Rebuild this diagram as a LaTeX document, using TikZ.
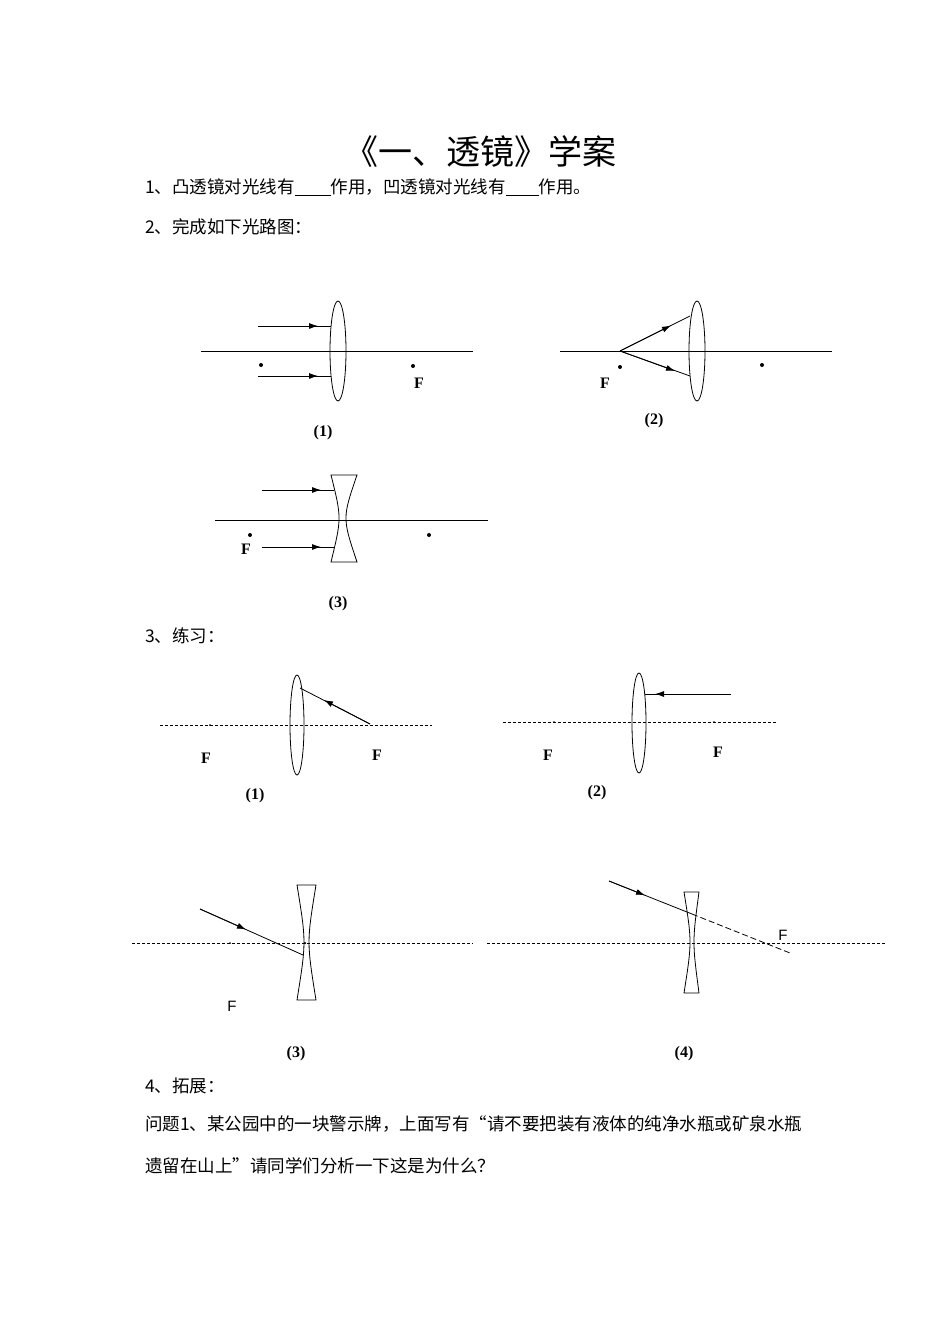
\documentclass[tikz,border=0pt]{standalone}
\usepackage{fontspec}
\setmainfont{Liberation Serif}
\newfontfamily\cjk{Noto Sans CJK SC}
\newfontfamily\lsans{Liberation Sans}
\usetikzlibrary{arrows.meta}
\begin{document}
\begin{tikzpicture}[x=1pt,y=-1pt,
 txt/.style={anchor=west,inner sep=0pt,font=\cjk\fontsize{17.5}{20}\selectfont},
 lab/.style={inner sep=0pt,font=\bfseries\fontsize{16}{18}\selectfont},
 fs/.style={inner sep=0pt,font=\lsans\fontsize{15}{17}\selectfont},
 ln/.style={line width=0.8pt},
 ar/.style={line width=0.8pt,-{Latex[length=9pt,width=6pt]}},
 dsh/.style={line width=0.8pt,dash pattern=on 3pt off 2pt},
 dot/.style={circle,fill,inner sep=0pt,minimum size=4pt}]
\useasboundingbox (0,0) rectangle (950,1344);
\node[inner sep=0pt,font=\cjk\fontsize{34}{38}\selectfont] (title) at (480,152) {《一、透镜》学案};
\node[txt] (l1) at (145,187) {1、凸透镜对光线有\underline{\hspace{36pt}}作用，凹透镜对光线有\underline{\hspace{33pt}}作用。};
\node[txt] (l2) at (145,227) {2、完成如下光路图：};
% Diagram 1
\draw[ln] (201,351) -- (473,351);
\draw[ln] (338,351) ellipse [x radius=8, y radius=50];
\coordinate (a1) at (258,326); \coordinate (a1e) at (331,326);
\draw[ln] (a1) -- (a1e); \draw[ar] (a1) -- (318,326);
\coordinate (a2) at (258,376); \coordinate (a2e) at (331,376);
\draw[ln] (a2) -- (a2e); \draw[ar] (a2) -- (318,376);
\node[dot] (d11) at (261,365) {}; \node[dot] (d12) at (413,366) {};
\node[lab] (f11) at (419,383) {F};
\node[lab] (c1) at (323,433) {(1)};
% Diagram 2
\draw[ln] (560,351) -- (832,351);
\draw[ln] (697,351) ellipse [x radius=8, y radius=50];
\coordinate (s2) at (620,351);
\draw[ln] (s2) -- (690,316); \draw[ar] (s2) -- (671,325.5);
\draw[ln] (s2) -- (690,376); \draw[ar] (s2) -- (675,371);
\node[dot] (d21) at (620,367) {}; \node[dot] (d22) at (762,365) {};
\node[lab] (f21) at (605,383) {F};
\node[lab] (c2) at (654,421) {(2)};
% Diagram 3
\draw[ln] (215,520) -- (488,520);
\draw[ln] (331,475) -- (357,475) .. controls (342.3,518) .. (357,562) -- (331,562) .. controls (341.7,518) .. (331,475) -- cycle;
\draw[ln] (262,490) -- (334,490); \draw[ar] (262,490) -- (321,490);
\draw[ln] (262,547) -- (334,547); \draw[ar] (262,547) -- (321,547);
\node[dot] (d31) at (250,535) {}; \node[dot] (d32) at (429,535) {};
\node[lab] (f31) at (246,549) {F};
\node[lab] (c3) at (338,604) {(3)};
\node[txt] (l3) at (145,636) {3、练习：};
% Ex 1
\draw[dsh] (160,725) -- (432,725);
\draw[ln] (297,725) ellipse [x radius=7, y radius=50];
\draw[ln] (370,724) -- (300,688); \draw[ar] (370,724) -- (324,700);
\node[dot,minimum size=2pt] (e11) at (210,725) {};
\node[lab] (ef11) at (206,758) {F}; \node[lab] (ef12) at (377,755) {F};
\node[lab] (ec1) at (255,796) {(1)};
% Ex 2
\draw[dsh] (503,722) -- (776,722);
\draw[ln] (639,723) ellipse [x radius=7, y radius=50];
\draw[ln] (731,694) -- (645,694); \draw[ar] (731,694) -- (655,694);
\node[dot,minimum size=2pt] (e21) at (554,722) {}; \node[dot,minimum size=2pt] (e22) at (714,722) {};
\node[lab] (ef21) at (548,755) {F}; \node[lab] (ef22) at (718,752) {F};
\node[lab] (ec2) at (597,793) {(2)};
% Ex 3
\draw[dsh] (132,943) -- (473,943);
\draw[ln] (297,885) -- (316,885) .. controls (306.7,942) .. (316,1000) -- (297,1000) .. controls (306.3,942) .. (297,885) -- cycle;
\draw[ln] (200,909) -- (303,955); \draw[ar] (200,909) -- (246,929.5);
\node[dot,minimum size=2pt] (e31) at (230,943) {}; \node[dot,minimum size=2.5pt] (e32) at (305,943) {};
\node[fs] (ef31) at (232,1006) {F};
\node[lab] (ec3) at (296,1054) {(3)};
% Ex 4
\draw[dsh] (487,943) -- (886,943);
\draw[ln] (684,892) -- (699,892) .. controls (692.3,942) .. (699,993) -- (684,993) .. controls (692,942) .. (684,892) -- cycle;
\draw[ln] (609,881) -- (692,914); \draw[ar] (609,881) -- (645,895.3);
\draw[line width=0.8pt,dash pattern=on 6pt off 3pt] (692,914) -- (790,953);
\node[fs] (ef41) at (783,935) {F};
\node[lab] (ec4) at (684,1054) {(4)};
\node[txt] (l4) at (145,1086) {4、拓展：};
\node[txt] (q1) at (145,1124) {问题1、某公园中的一块警示牌，上面写有“请不要把装有液体的纯净水瓶或矿泉水瓶};
\node[txt] (q2) at (145,1166) {遗留在山上”请同学们分析一下这是为什么？};
\end{tikzpicture}
\end{document}
